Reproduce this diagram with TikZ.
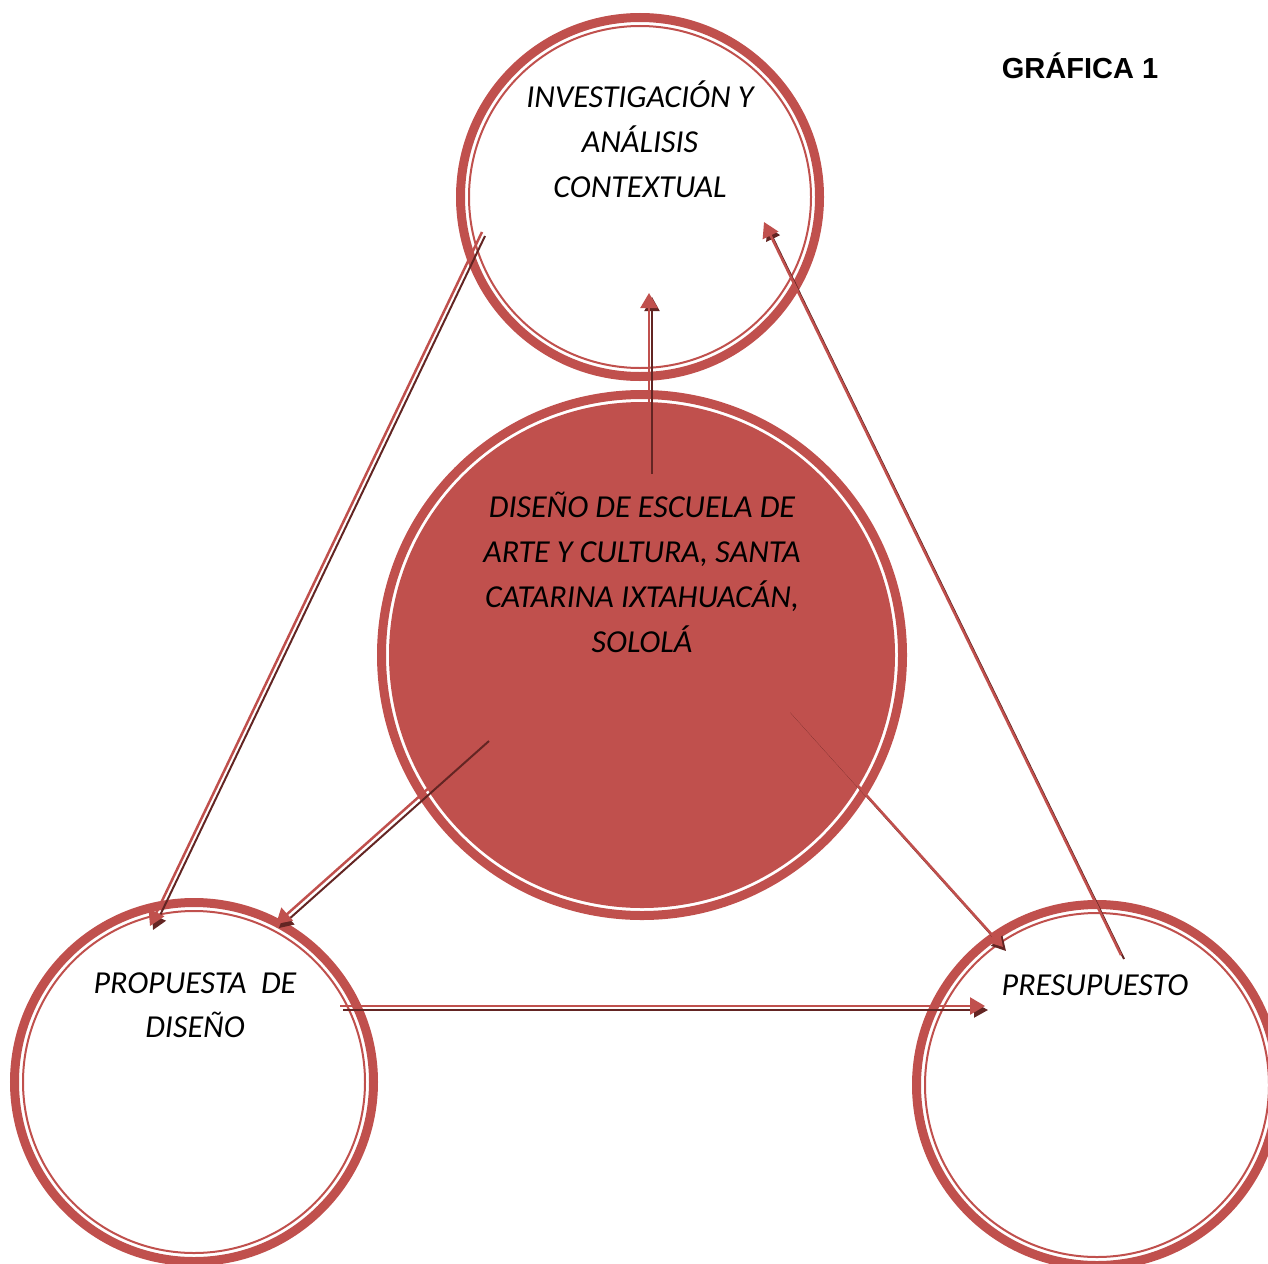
\documentclass[tikz,border=0pt]{standalone}
\usepackage{fontspec}
\setmainfont{Carlito}
\newfontfamily\arialfont{Liberation Sans}
\usetikzlibrary{arrows.meta}
\definecolor{ringred}{HTML}{C0504D}
\definecolor{shadred}{HTML}{632523}
\newcommand{\shadowarrow}[2]{%
  \draw[arrdark] ([shift={(3,4)}]#1) -- ([shift={(3,4)}]#2);
  \draw[arrlight] (#1) -- (#2);}
\begin{document}
\begin{tikzpicture}[x=1pt,y=-1pt,
  ring/.style={draw=ringred, line width=9pt},
  innerring/.style={draw=ringred, line width=2pt},
  bubble/.style={circle, inner sep=0pt, draw=none},
  lbl/.style={font=\fontsize{32}{38}\selectfont\itshape, anchor=base, inner sep=0pt},
  arrlight/.style={draw=ringred, line width=2.5pt, -{Triangle[length=15pt,width=17pt]}},
  arrdark/.style={draw=shadred, line width=2pt, -{Triangle[length=14pt,width=15pt]}},
]
\useasboundingbox (0,0) rectangle (1268,1263);
\clip (0,0) rectangle (1268,1263);

% circles
\node[bubble, minimum size=368pt] (inv) at (640,197) {};
\node[bubble, minimum size=530pt] (main) at (642,655) {};
\node[bubble, minimum size=368pt] (prop) at (194,1082) {};
\node[bubble, minimum size=370pt] (pres) at (1097,1085) {};

\draw[ring] (inv.center) circle[radius=179.5pt];
\draw[innerring] (inv.center) circle[radius=171pt];
\draw[ring] (main.center) circle[radius=260.5pt];
\fill[ringred] (main.center) circle[radius=253pt];
\draw[ring] (prop.center) circle[radius=179.5pt];
\draw[innerring] (prop.center) circle[radius=171pt];
\draw[ring] (pres.center) circle[radius=180.5pt];
\draw[innerring] (pres.center) circle[radius=172pt];

% texts
\node[lbl] (inv1) at (640,107) {INVESTIGACIÓN Y};
\node[lbl] (inv2) at (640,152) {ANÁLISIS};
\node[lbl] (inv3) at (640,197) {CONTEXTUAL};

\node[lbl] (main1) at (642,517) {DISEÑO DE ESCUELA DE};
\node[lbl] (main2) at (642,562) {ARTE Y CULTURA, SANTA};
\node[lbl] (main3) at (642,607) {CATARINA IXTAHUACÁN,};
\node[lbl] (main4) at (642,652) {SOLOLÁ};

\node[lbl] (prop1) at (195,993) {PROPUESTA\ \ DE};
\node[lbl] (prop2) at (195,1037) {DISEÑO};

\node[lbl] (pres1) at (1095,995) {PRESUPUESTO};

\node[anchor=base, inner sep=0pt, font=\arialfont\bfseries\fontsize{29}{34}\selectfont] (title) at (1080,78) {GRÁFICA 1};

% connector end points
\coordinate (a1s) at (649,470);  \coordinate (a1e) at (649,293);
\coordinate (a2s) at (482,232);  \coordinate (a2e) at (150,926);
\coordinate (a3s) at (486,737);  \coordinate (a3e) at (276,924);
\coordinate (a4s) at (788,708);  \coordinate (a4e) at (1003,947);
\coordinate (a5s) at (1121,955); \coordinate (a5e) at (764,222);
\coordinate (a6s) at (340,1006); \coordinate (a6e) at (985,1006);

\shadowarrow{a1s}{a1e}
\shadowarrow{a2s}{a2e}
\shadowarrow{a3s}{a3e}
\shadowarrow{a4s}{a4e}
\shadowarrow{a5s}{a5e}
\shadowarrow{a6s}{a6e}
\end{tikzpicture}
\end{document}
